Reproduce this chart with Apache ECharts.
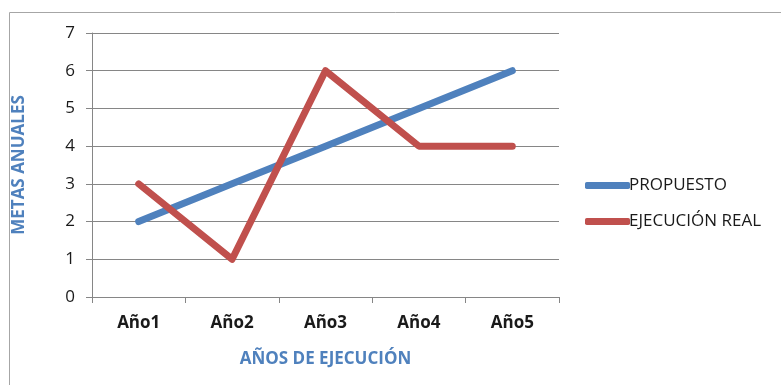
<!DOCTYPE html>
<html>
<head>
<meta charset="utf-8">
<script src="https://cdn.jsdelivr.net/npm/echarts@6/dist/echarts.min.js"></script>
<style>
  html, body { margin: 0; padding: 0; background: #fff; }
  #chart { width: 781px; height: 385px; }
</style>
</head>
<body>
<div id="chart"></div>
<script>
// Annual targets: planned vs. actual execution
const categories = ['Año1', 'Año2', 'Año3', 'Año4', 'Año5'];
const propuesto = [2, 3, 4, 5, 6];
const ejecucionReal = [3, 1, 6, 4, 4];
const seriesNames = ['PROPUESTO', 'EJECUCIÓN REAL'];

const FONT = '"Open Sans", "Noto Sans", sans-serif';
const BLUE = '#4f81bd';
const RED = '#c0504d';

const chart = echarts.init(document.getElementById('chart'), null, { renderer: 'canvas' });

chart.setOption({
  animation: false,
  backgroundColor: '#ffffff',
  graphic: [{
    type: 'rect',
    shape: { x: 9.5, y: 12.5, width: 800, height: 400 },
    style: { fill: 'none', stroke: '#a6a6a6', lineWidth: 1 },
    silent: true
  }],
  grid: { left: 92, top: 33, width: 467, height: 264, containLabel: false },
  legend: {
    orient: 'vertical',
    left: 580,
    top: 172,
    itemWidth: 45,
    itemHeight: 7,
    itemGap: 19,
    icon: 'roundRect',
    data: seriesNames,
    textStyle: { fontFamily: FONT, fontSize: 17, color: '#1a1a1a', padding: [0, 0, 0, -6] }
  },
  xAxis: {
    type: 'category',
    data: categories,
    boundaryGap: true,
    name: 'AÑOS DE EJECUCIÓN',
    nameLocation: 'middle',
    nameGap: 54,
    nameTextStyle: { fontFamily: FONT, fontSize: 17, fontWeight: 'bold', color: BLUE },
    axisLine: { lineStyle: { color: '#868686', width: 1 } },
    axisTick: { show: true, length: 6, alignWithLabel: false, lineStyle: { color: '#868686' } },
    axisLabel: { fontFamily: FONT, fontSize: 17, fontWeight: 'bold', color: '#1a1a1a', margin: 18 }
  },
  yAxis: {
    type: 'value',
    min: 0,
    max: 7,
    interval: 1,
    name: 'METAS ANUALES',
    nameLocation: 'middle',
    nameGap: 64,
    nameRotate: 90,
    nameTextStyle: { fontFamily: FONT, fontSize: 17, fontWeight: 'bold', color: BLUE },
    axisLine: { show: true, lineStyle: { color: '#868686', width: 1 } },
    axisTick: { show: true, length: 6, lineStyle: { color: '#868686' } },
    axisLabel: { fontFamily: FONT, fontSize: 17, color: '#1a1a1a', margin: 17 },
    splitLine: { show: true, lineStyle: { color: '#868686', width: 1 } }
  },
  series: [
    {
      name: seriesNames[0],
      type: 'line',
      data: propuesto,
      symbol: 'none',
      color: BLUE,
      lineStyle: { width: 7, color: BLUE, cap: 'round', join: 'round' }
    },
    {
      name: seriesNames[1],
      type: 'line',
      data: ejecucionReal,
      symbol: 'none',
      color: RED,
      lineStyle: { width: 7, color: RED, cap: 'round', join: 'round' }
    }
  ]
});
</script>
</body>
</html>
